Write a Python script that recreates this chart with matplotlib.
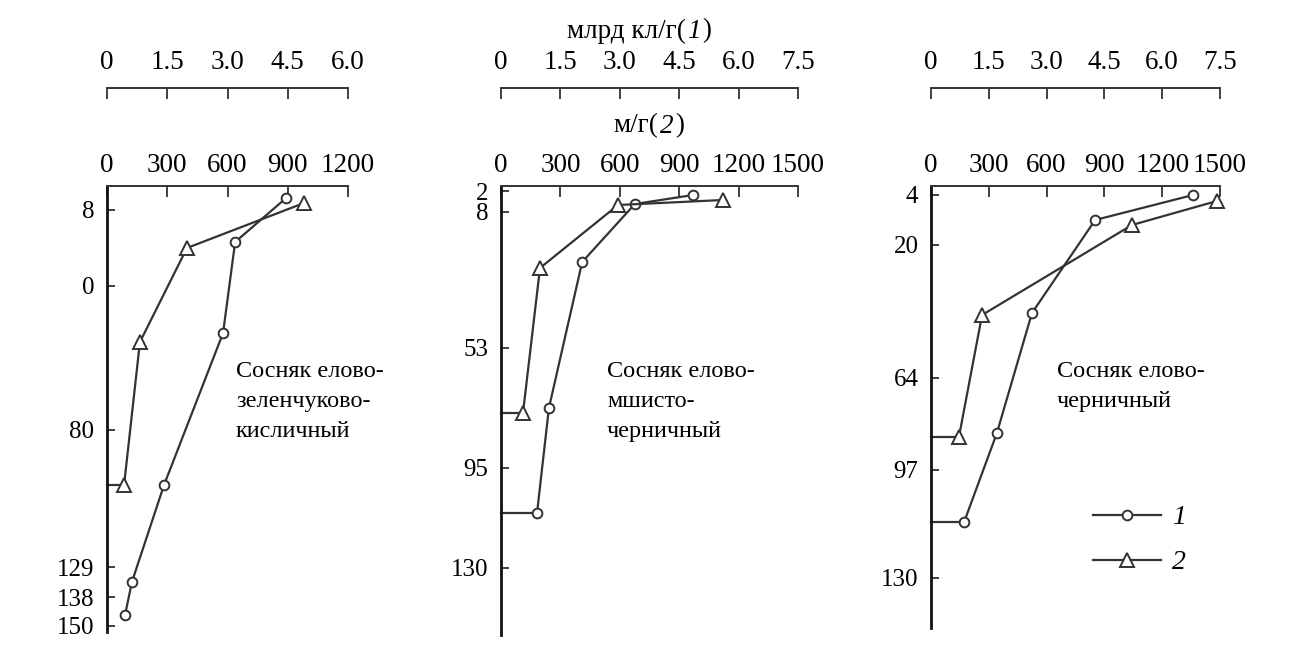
import numpy as np
import matplotlib
matplotlib.use("Agg")
import matplotlib.pyplot as plt
from matplotlib.lines import Line2D
from matplotlib.offsetbox import TextArea, HPacker, AnchoredOffsetbox

plt.rcParams["font.family"] = ["Liberation Serif", "DejaVu Serif"]

W, H = 1298, 656
KL_PER_M = 200  # 1 млрд кл/г on upper scale == 200 м/г on lower scale
INK = "#333333"

# --- data: x of curve 1 in млрд кл/г, curve 2 in м/г; y = position down the depth axis
p1_cells_x = [4.46, 3.19, 2.89, 1.42, 0.62, 0.45]
p1_cells_y = [12, 56, 147, 299, 396, 429]
p1_myc_x = [981, 398, 164, 85, 0]
p1_myc_y = [17, 62, 156, 299, 299]
p1_depth_pos = [24, 100, 244, 381, 411, 440]
p1_depth_lbl = ["8", "0", "80", "129", "138", "150"]

p2_cells_x = [4.85, 3.38, 2.05, 1.21, 0.91, 0]
p2_cells_y = [9, 18, 76, 222, 327, 327]
p2_myc_x = [1121, 591, 197, 111, 0]
p2_myc_y = [14, 19, 82, 227, 227]
p2_depth_pos = [5, 26, 162, 282, 382]
p2_depth_lbl = ["2", "8", "53", "95", "130"]

p3_cells_x = [6.80, 4.26, 2.62, 1.71, 0.86, 0]
p3_cells_y = [9, 34, 127, 247, 336, 336]
p3_myc_x = [1484, 1043, 265, 145, 0]
p3_myc_y = [15, 39, 129, 251, 251]
p3_depth_pos = [9, 59, 192, 284, 392]
p3_depth_lbl = ["4", "20", "64", "97", "130"]

p1_top_ticks = [0, 1.5, 3.0, 4.5, 6.0]
p23_top_ticks = [0, 1.5, 3.0, 4.5, 6.0, 7.5]
p1_m_ticks = [0, 300, 600, 900, 1200]
p23_m_ticks = [0, 300, 600, 900, 1200, 1500]

names = ["Сосняк елово-\nзеленчуково-\nкисличный",
         "Сосняк елово-\nмшисто-\nчерничный",
         "Сосняк елово-\nчерничный"]

# panel boxes in pixels: left, right, top, bottom
boxes = [(107, 348, 186, 632), (501, 798, 186, 635), (931, 1220, 186, 628)]
name_xy = [(236, 361), (607, 361), (1057, 361)]
TOP_SCALE_Y = 88

panels = [
    (p1_cells_x, p1_cells_y, p1_myc_x, p1_myc_y, p1_depth_pos, p1_depth_lbl, p1_top_ticks, p1_m_ticks),
    (p2_cells_x, p2_cells_y, p2_myc_x, p2_myc_y, p2_depth_pos, p2_depth_lbl, p23_top_ticks, p23_m_ticks),
    (p3_cells_x, p3_cells_y, p3_myc_x, p3_myc_y, p3_depth_pos, p3_depth_lbl, p23_top_ticks, p23_m_ticks),
]

fig = plt.figure(figsize=(W / 100, H / 100), dpi=100)
FS = 18
FSX = 19.5

for i, (cx, cy, mx, my, dpos, dlbl, tticks, mticks) in enumerate(panels):
    l, r, t, b = boxes[i]
    ax = fig.add_axes([l / W, 1 - b / H, (r - l) / W, (b - t) / H])
    ax.set_xlim(0, mticks[-1])
    ax.set_ylim(b - t, 0)

    cx_m = np.array(cx) * KL_PER_M
    n_c = 6 if i == 0 else 5
    ax.plot(cx_m, cy, color=INK, lw=1.6, marker="o", ms=7, mfc="white",
            mec=INK, mew=1.4, markevery=slice(0, n_c), clip_on=False)
    ax.plot(mx, my, color=INK, lw=1.6, marker="^", ms=10, mfc="white",
            mec=INK, mew=1.4, markevery=slice(0, 4), clip_on=False)

    for s in ("right", "bottom"):
        ax.spines[s].set_visible(False)
    ax.spines["left"].set_linewidth(2.0)
    ax.spines["left"].set_color("#111111")
    ax.spines["top"].set_linewidth(1.4)
    ax.spines["top"].set_color(INK)

    ax.xaxis.tick_top()
    ax.set_xticks(mticks)
    ax.set_xticklabels([str(v) for v in mticks])
    ax.tick_params(axis="x", direction="in", length=8, width=1.3, pad=6,
                   labelsize=FSX, color=INK)
    ax.set_yticks(dpos)
    ax.set_yticklabels(dlbl)
    ax.tick_params(axis="y", direction="in", length=6, width=1.3, pad=9,
                   labelsize=FS, color=INK)

    loc = 1 + (t - TOP_SCALE_Y) / (b - t)
    sec = ax.secondary_xaxis(loc, functions=(lambda x: x / KL_PER_M,
                                             lambda x: x * KL_PER_M))
    sec.set_xticks(tticks)
    sec.set_xticklabels([("%.1f" % v) if v else "0" for v in tticks])
    sec.tick_params(direction="in", length=8, width=1.3, pad=9,
                    labelsize=FSX, color=INK)
    sec.spines["top"].set_linewidth(1.4)
    sec.spines["top"].set_color(INK)

    nx, ny = name_xy[i]
    fig.text(nx / W, 1 - ny / H, names[i], fontsize=17.5, va="top", ha="left",
             linespacing=1.55)


def scale_title(text, num, x, y):
    # plain text with an italic curve number, centred at pixel (x, y)
    up = dict(fontsize=FSX, family="Liberation Serif")
    it = dict(fontsize=FSX, family="Liberation Serif", style="italic")
    box = HPacker(children=[TextArea(text, textprops=up),
                            TextArea(num, textprops=it),
                            TextArea(")", textprops=up)],
                  align="baseline", pad=0, sep=1)
    anch = AnchoredOffsetbox(loc="center", child=box, pad=0, borderpad=0,
                             frameon=False, bbox_to_anchor=(x / W, 1 - y / H),
                             bbox_transform=fig.transFigure)
    fig.add_artist(anch)


scale_title("млрд кл/г(", "1", 639, 31)
scale_title("м/г(", "2", 649, 126)

handles = [
    Line2D([], [], color=INK, lw=1.6, marker="o", ms=7, mfc="white", mec=INK, mew=1.4),
    Line2D([], [], color=INK, lw=1.6, marker="^", ms=10, mfc="white", mec=INK, mew=1.4),
]
fig.legend(handles, ["1", "2"], loc="upper left",
           bbox_to_anchor=(1068 / W, 1 - 480 / H), frameon=False,
           prop={"family": "Liberation Serif", "style": "italic", "size": 20},
           handlelength=2.45, handletextpad=0.4, labelspacing=0.7)

fig.savefig("out.png", dpi=100, facecolor="white")
